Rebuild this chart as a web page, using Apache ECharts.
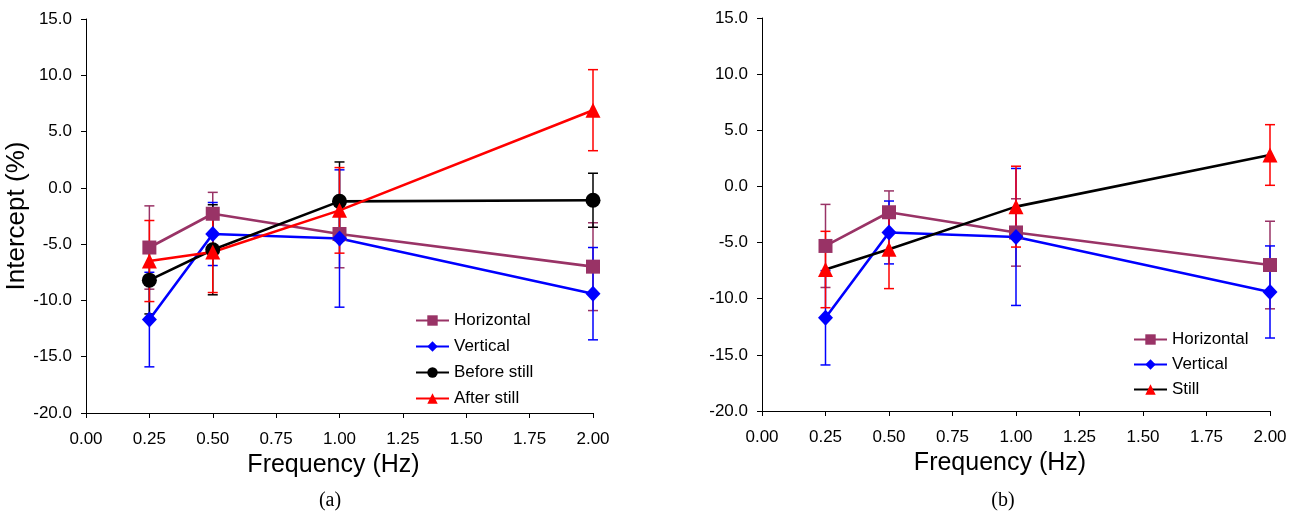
<!DOCTYPE html>
<html>
<head>
<meta charset="utf-8">
<script src="https://cdn.jsdelivr.net/npm/echarts@6/dist/echarts.min.js"></script>
<style>
  html, body { margin: 0; padding: 0; background: #fff; }
  #chart { width: 1295px; height: 516px; }
</style>
</head>
<body>
<div id="chart"></div>
<script>
// frequencies (Hz)
var freq = [0.25, 0.5, 1.0, 2.0];

// intercept means and error (+/-) per condition
var horizontal    = [-5.3, -2.3, -4.1, -7.0];
var horizontalErr = [3.7, 1.9, 3.0, 3.9];
var vertical      = [-11.7, -4.1, -4.5, -9.4];
var verticalErr   = [4.2, 2.8, 6.1, 4.1];
var beforeStill    = [-8.2, -5.5, -1.2, -1.1];
var beforeStillErr = [3.0, 4.0, 3.5, 2.4];
var afterStill    = [-6.5, -5.7, -2.0, 6.9];
var afterStillErr = [3.6, 3.6, 3.8, 3.6];
var still    = [-7.4, -5.6, -1.8, 2.8];
var stillErr = [3.4, 3.5, 3.6, 2.7];

var PURPLE = '#993366', BLUE = '#0000ff', BLACK = '#000000', RED = '#ff0000';
var FONT = 'Liberation Sans';

function pts(v) {
  return freq.map(function (f, i) { return [f, v[i]]; });
}
function errs(v, e) {
  return freq.map(function (f, i) { return [f, v[i] - e[i], v[i] + e[i]]; });
}

function errorSeries(name, v, e, color, idx) {
  return {
    name: name,
    type: 'custom',
    xAxisIndex: idx, yAxisIndex: idx,
    z: 1,
    silent: true,
    data: errs(v, e),
    renderItem: function (params, api) {
      var lo = api.coord([api.value(0), api.value(1)]);
      var hi = api.coord([api.value(0), api.value(2)]);
      var w = 5;
      var st = { stroke: color, lineWidth: 1.5 };
      return {
        type: 'group',
        children: [
          { type: 'line', shape: { x1: lo[0], y1: lo[1], x2: hi[0], y2: hi[1] }, style: st },
          { type: 'line', shape: { x1: lo[0] - w, y1: lo[1], x2: lo[0] + w, y2: lo[1] }, style: st },
          { type: 'line', shape: { x1: hi[0] - w, y1: hi[1], x2: hi[0] + w, y2: hi[1] }, style: st }
        ]
      };
    }
  };
}

function lineSeries(name, v, lineColor, markColor, symbol, size, idx) {
  return {
    name: name,
    type: 'line',
    xAxisIndex: idx, yAxisIndex: idx,
    z: 3,
    data: pts(v),
    symbol: symbol,
    symbolSize: size,
    showAllSymbol: true,
    lineStyle: { color: lineColor, width: 2.6 },
    itemStyle: { color: markColor, opacity: 1 },
    animation: false
  };
}

function xAxis(idx, padRight) {
  return {
    type: 'value', gridIndex: idx,
    min: 0, max: 2, interval: 0.25,
    name: 'Frequency (Hz)', nameLocation: 'middle', nameGap: 40,
    nameTextStyle: { fontFamily: FONT, fontSize: 25, color: '#000', padding: [0, padRight, 0, 0] },
    axisLine: { onZero: false, lineStyle: { color: '#000', width: 1 } },
    axisTick: { inside: false, length: 5, lineStyle: { color: '#000' } },
    axisLabel: { margin: 18, fontFamily: FONT, fontSize: 17, color: '#000',
      formatter: function (v) { return v.toFixed(2); } },
    splitLine: { show: false }
  };
}

function yAxis(idx, name) {
  return {
    type: 'value', gridIndex: idx,
    min: -20, max: 15, interval: 5,
    name: name, nameLocation: 'middle', nameGap: 50,
    nameTextStyle: { fontFamily: FONT, fontSize: 26, color: '#000' },
    axisLine: { show: true, lineStyle: { color: '#000', width: 1 } },
    axisTick: { show: true, length: 5, lineStyle: { color: '#000' } },
    axisLabel: { margin: 14, fontFamily: FONT, fontSize: 17, color: '#000',
      formatter: function (v) { return v.toFixed(1); } },
    splitLine: { show: false }
  };
}

var legendText = { fontFamily: FONT, fontSize: 17, color: '#000' };
var capStyle = { fontFamily: 'Liberation Serif', fontSize: 20, fill: '#000', textAlign: 'center', textVerticalAlign: 'middle' };

var option = {
  backgroundColor: '#fff',
  animation: false,
  graphic: [
    { type: 'text', x: 330, y: 501, style: Object.assign({ text: '(a)' }, capStyle) },
    { type: 'text', x: 1003, y: 501, style: Object.assign({ text: '(b)' }, capStyle) }
  ],
  grid: [
    { left: 86, top: 19, width: 507, height: 394 },
    { left: 762, top: 18, width: 508, height: 393 }
  ],
  legend: [
    { orient: 'vertical', left: 415, top: 312, padding: 0, itemWidth: 33, itemHeight: 13, itemGap: 9,
      textStyle: legendText, data: ['Horizontal', 'Vertical', 'Before still', 'After still'] },
    { orient: 'vertical', left: 1133, top: 331, padding: 0, itemWidth: 33, itemHeight: 13, itemGap: 8,
      textStyle: legendText, data: ['Horizontal', 'Vertical', 'Still'] }
  ],
  xAxis: [xAxis(0, 12), xAxis(1, 32)],
  yAxis: [yAxis(0, 'Intercept (%)'), yAxis(1, '')],
  series: [
    errorSeries('e1', horizontal, horizontalErr, PURPLE, 0),
    errorSeries('e2', vertical, verticalErr, BLUE, 0),
    errorSeries('e3', beforeStill, beforeStillErr, BLACK, 0),
    errorSeries('e4', afterStill, afterStillErr, RED, 0),
    lineSeries('Horizontal', horizontal, PURPLE, PURPLE, 'rect', 14, 0),
    lineSeries('Vertical', vertical, BLUE, BLUE, 'diamond', [15, 16], 0),
    lineSeries('Before still', beforeStill, BLACK, BLACK, 'circle', 15, 0),
    lineSeries('After still', afterStill, RED, RED, 'triangle', 15, 0),

    errorSeries('e5', horizontal, horizontalErr, PURPLE, 1),
    errorSeries('e6', vertical, verticalErr, BLUE, 1),
    errorSeries('e7', still, stillErr, RED, 1),
    lineSeries('Horizontal', horizontal, PURPLE, PURPLE, 'rect', 14, 1),
    lineSeries('Vertical', vertical, BLUE, BLUE, 'diamond', [15, 16], 1),
    lineSeries('Still', still, BLACK, RED, 'triangle', 15, 1)
  ]
};

var myChart = echarts.init(document.getElementById('chart'));
myChart.setOption(option);
</script>
</body>
</html>
